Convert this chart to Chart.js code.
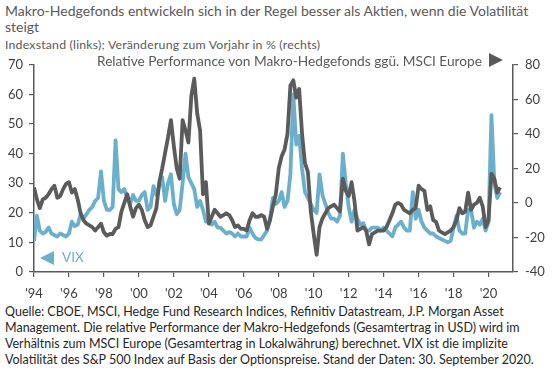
<!DOCTYPE html>
<html><head><meta charset="utf-8">
<script src="https://cdn.jsdelivr.net/npm/chart.js@4"></script>
<style>
body{margin:0;width:560px;height:371px;background:#fff;position:relative;overflow:hidden;font-family:Lato,"Open Sans",sans-serif;}
#title{position:absolute;left:5px;top:3px;width:532px;font-size:14px;line-height:16px;color:#595959;}
#sub{position:absolute;left:5px;top:37px;font-size:12.3px;letter-spacing:0.2px;color:#595959;white-space:nowrap;}
#wrap{position:absolute;left:0;top:50px;width:560px;height:252px;}
#legR{position:absolute;left:97px;top:52px;font-size:13.7px;color:#595959;white-space:nowrap;}
#triR{position:absolute;left:489px;top:53px;width:0;height:0;border-top:7px solid transparent;border-bottom:7px solid transparent;border-left:14px solid #595959;}
#triL{position:absolute;left:40px;top:251px;width:0;height:0;border-top:7px solid transparent;border-bottom:7px solid transparent;border-right:14px solid #6AB0CC;}
#vix{position:absolute;left:62px;top:249px;font-size:13.5px;color:#6AB0CC;}
#foot{position:absolute;left:5px;top:304px;font-size:12.5px;line-height:16px;color:#262626;white-space:nowrap;}
</style></head>
<body>
<div id="title">Makro-Hedgefonds entwickeln sich in der Regel besser als Aktien, wenn die Volatilität steigt</div>
<div id="sub">Indexstand (links); Veränderung zum Vorjahr in % (rechts)</div>
<div id="wrap"><canvas id="c" width="560" height="252"></canvas></div>
<div id="legR">Relative Performance von Makro-Hedgefonds ggü. MSCI Europe</div>
<div id="triR"></div>
<div id="triL"></div>
<div id="vix">VIX</div>
<div id="foot">Quelle: CBOE, MSCI, Hedge Fund Research Indices, Refinitiv Datastream, J.P. Morgan Asset<br>Management. Die relative Performance der Makro-Hedgefonds (Gesamtertrag in USD) wird im<br>Verhältnis zum MSCI Europe (Gesamtertrag in Lokalwährung) berechnet. VIX ist die implizite<br>Volatilität des S&amp;P 500 Index auf Basis der Optionspreise. Stand der Daten: 30. September 2020.</div>
<script>
// Bimonthly samples starting Jan 1994 (Jan, Mar, May, Jul, Sep, Nov ...), last = Sep 2020
const startYear = 1994;
const pointsPerYear = 6;

// VIX index level (left axis)
const vixValues = [
  10.5, 19, 14, 13, 13.5, 15,
  13, 12.5, 12, 13, 12.5, 12,
  13, 17, 15.5, 16, 19.5, 18,
  19.5, 21, 22, 24, 25, 34,
  24, 21, 21, 22, 44.5, 28,
  27, 28, 25, 23, 26, 24,
  24, 26, 27, 21, 22, 29,
  26, 29, 32, 24, 30, 33,
  23, 19.5, 21, 30, 40, 32,
  30, 28, 22, 24, 21, 17,
  17, 16, 17, 15, 15, 14,
  13, 13.5, 13, 12, 13, 12,
  12, 12, 15, 13, 11.5, 11,
  11, 12.5, 14, 18, 25, 23,
  24, 27, 22, 24, 33, 60,
  43, 46, 35, 27, 25, 23,
  21, 20, 33, 26, 23, 20,
  18, 18, 17, 19, 40, 30,
  22, 17, 21, 18, 16, 16.5,
  14, 14, 15, 15, 15, 14,
  15, 14, 13, 12, 15, 16,
  17, 15, 14, 14, 27, 18,
  21, 17, 15, 14, 13, 13,
  12, 11.5, 11, 10.5, 10, 10.5,
  15, 19, 14, 13, 13, 21,
  21, 15, 17, 16, 18, 14,
  17, 53, 30, 25, 27
];

// Relative performance of macro hedge funds vs MSCI Europe, % y/y (right axis)
const relPerfValues = [
  9, 2, -3, 2, 3, 5,
  8, 10, 3, 4, 8, 11,
  12, 6, 8, 2, -6, -10,
  -12, -13, -14, -16, -14, -12,
  -17, -19, -18, -18, -15, -14,
  -5, 0, 5, -2, -8, -3,
  -1, -4, -10, -14, -13, -8,
  -3, 12, 20, 29, 38, 48,
  33, 20, 14, 48, 42, 35,
  62, 72, 52, 42, 5, 12,
  -12, -8, -4, -6, -8, -7,
  -6, -7, -10, -14, -13, -15,
  -15, -16, -10, -6, -8, -8,
  -7, -8, -15, -10, -2, 5,
  20, 27, 31, 40, 68, 71,
  61, 66, 40, 23, 18, -5,
  -18, -30, -14, -9, -6, -3,
  -2, -1, -3, -5, 14, 7,
  4, 12, 1, -16, -15, -14,
  -16, -24, -18, -17, -16, -16,
  -16, -14, -10, -6, -1, 0,
  -1, -4, -5, -6, -4, -3,
  10, 8, 7, -4, -2, -10,
  -11, -16, -17, -18, -17, -16,
  -14, -10, -3, -6, -5, 6,
  -4, -1, 0, 3, -2, -14,
  -10, 17, 14, 6, 9
];

const xTickYears = [1994,1996,1998,2000,2002,2004,2006,2008,2010,2012,2014,2016,2018,2020];
const xTickLabels = ["'94","'96","'98","'00","'02","'04","'06","'08","'10","'12","'14","'16","'18","'20"];
const leftTicks = [0,10,20,30,40,50,60,70];
const rightTicks = [-40,-20,0,20,40,60,80];

const toPoints = arr => arr.map((v,i)=>({x: startYear + i/pointsPerYear, y: v}));

const axisColor = '#595959';
const tickFont = {family:'Lato, "Open Sans", sans-serif', size:13};

new Chart(document.getElementById('c'), {
  type:'line',
  data:{datasets:[
    {label:'Relative Performance', data:toPoints(relPerfValues), yAxisID:'yR', borderColor:'#5B5B5B', borderWidth:3.8, pointRadius:0, tension:0, borderJoinStyle:'round', order:0},
    {label:'VIX', data:toPoints(vixValues), yAxisID:'yL', borderColor:'#6AB0CC', borderWidth:3.8, pointRadius:0, tension:0, borderJoinStyle:'round', order:1}
  ]},
  options:{
    responsive:false, animation:false, devicePixelRatio:1,
    layout:{padding:{top:11,left:0,right:0,bottom:0}},
    plugins:{legend:{display:false}, tooltip:{enabled:false}},
    scales:{
      x:{type:'linear', min:1994, max:2021.4,
        afterBuildTicks: s => { s.ticks = xTickYears.map(v=>({value:v})); },
        afterFit: s => { s.height = 30; },
        grid:{drawOnChartArea:false, drawTicks:true, tickLength:5, color:axisColor, lineWidth:1.2},
        border:{display:true, color:axisColor, width:1.5},
        ticks:{font:tickFont, color:'#404040', padding:9, maxRotation:0, autoSkip:false,
          callback:(v)=>{const i=xTickYears.indexOf(v); return i>=0?xTickLabels[i]:'';}}
      },
      yL:{type:'linear', position:'left', min:0, max:70,
        afterBuildTicks: s => { s.ticks = leftTicks.map(v=>({value:v})); },
        afterFit: s => { s.width = 34; },
        grid:{drawOnChartArea:false, drawTicks:true, tickLength:5, color:axisColor, lineWidth:1.2},
        border:{display:true, color:axisColor, width:1.5},
        ticks:{font:tickFont, color:'#404040', padding:6}
      },
      yR:{type:'linear', position:'right', min:-40, max:80,
        afterBuildTicks: s => { s.ticks = rightTicks.map(v=>({value:v})); },
        afterFit: s => { s.width = 47; },
        grid:{drawOnChartArea:false, drawTicks:true, tickLength:5, color:axisColor, lineWidth:1.2},
        border:{display:true, color:axisColor, width:1.5},
        ticks:{font:tickFont, color:'#404040', padding:7}
      }
    }
  }
});
</script>
</body></html>
